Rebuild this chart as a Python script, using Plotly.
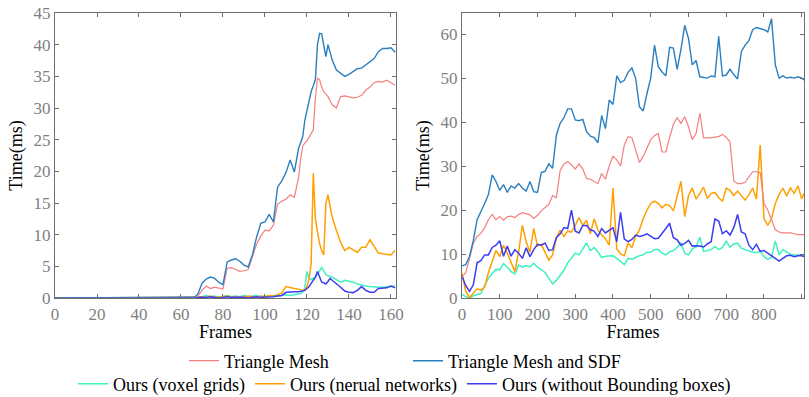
import plotly.graph_objects as go

# ---------------- data ----------------
series_names = ["Triangle Mesh", "Triangle Mesh and SDF", "Ours (voxel grids)",
                "Ours (nerual networks)", "Ours (without Bounding boxes)"]

left_frames = [0, 66, 68, 70, 72, 74, 76, 78, 80, 82, 84, 86, 88, 90, 92, 94, 96, 98, 100,
               102, 104, 106, 108, 110, 112, 114, 116,
               117, 118, 119, 120, 121, 122, 123, 124, 125, 126, 127, 128, 129, 130, 131, 132,
               134, 136, 138, 140, 142, 144, 146, 148, 150, 152, 154, 156, 158, 160, 162]

left_mesh = [0, 0, 0.3, 1.2, 1.9, 1.5, 1.7, 1.5, 1.4, 4.7, 4.8, 4.5, 4.2, 4.3, 4.5, 6.5, 8.5, 9.8, 10.7,
             10.6, 11.5, 14.8, 15.3, 15.6, 16.3, 15.9, 19.0,
             22.0, 24.0, 24.5, 24.8, 25.4, 26.0, 26.5, 31.5, 34.7, 34.5, 33.3, 32.6, 32.2, 31.8, 31.2, 30.5,
             30.0, 31.8, 31.9, 31.8, 31.6, 31.7, 32.0, 32.8, 33.3, 34.0, 34.2, 34.1, 34.4, 34.0, 33.6]

left_mesh_sdf = [0, 0, 0.6, 2.3, 3.0, 3.3, 3.1, 2.5, 2.1, 5.7, 6.0, 6.2, 5.8, 5.2, 4.9, 6.8, 9.6, 11.8, 12.0,
                 13.2, 12.0, 17.5, 18.5, 19.8, 21.8, 19.9, 23.6,
                 24.4, 25.5, 28.1, 29.8, 31.5, 32.6, 33.5, 34.5, 40.0, 41.8, 41.7, 40.0, 38.1, 40.0, 38.8, 37.6,
                 36.0, 35.5, 35.0, 35.3, 35.8, 36.2, 36.3, 36.8, 37.2, 37.8, 38.9, 39.4, 39.4, 39.5, 38.8]

left_voxel = [0, 0, 0.1, 0.2, 0.4, 0.2, 0.3, 0.1, 0.2, 0.4, 0.2, 0.3, 0.2, 0.4, 0.2, 0.3, 0.4, 0.2, 0.3,
              0.3, 0.4, 0.3, 0.4, 0.5, 0.4, 0.5, 0.6,
              0.7, 1.0, 1.6, 4.2, 3.2, 2.9, 3.1, 3.3, 3.8, 4.3, 4.8, 4.3, 3.7, 3.5, 3.4, 3.3,
              2.9, 2.5, 2.8, 2.7, 2.5, 2.2, 2.0, 1.9, 1.8, 1.7, 1.7, 1.7, 1.8, 1.8, 1.9]

left_neural = [0, 0, 0.1, 0.2, 0.1, 0.3, 0.1, 0.2, 0.1, 0.3, 0.2, 0.1, 0.2, 0.1, 0.3, 0.2, 0.1, 0.3, 0.2,
               0.4, 0.3, 0.5, 0.8, 1.8, 1.6, 1.5, 1.4,
               1.3, 1.2, 1.3, 1.8, 3.0, 5.5, 19.7, 12.5, 10.5, 8.6, 7.5, 6.8, 15.0, 16.3, 14.5, 12.8,
               10.7, 8.8, 7.5, 8.0, 7.6, 7.2, 8.0, 8.0, 9.2, 8.2, 7.1, 7.0, 6.9, 6.8, 7.5]

left_nobbox = [0, 0, 0.1, 0.0, 0.1, 0.2, 0.1, 0.0, 0.1, 0.2, 0.1, 0.1, 0.2, 0.1, 0.0, 0.1, 0.2, 0.1, 0.1,
               0.2, 0.2, 0.3, 0.4, 0.9, 1.0, 1.0, 1.0,
               1.1, 1.1, 1.2, 1.5, 1.8, 2.3, 2.8, 3.3, 4.2, 3.2, 2.5, 2.4, 2.2, 2.6, 3.1, 2.8,
               2.3, 1.7, 1.1, 0.9, 0.85, 1.2, 1.8, 1.2, 0.9, 0.9, 1.5, 1.6, 1.6, 1.9, 1.6]

right_frames = [0, 10, 20, 30, 40, 50, 60, 70, 80, 90, 100, 110, 120, 130, 140, 150, 160, 170, 180, 190,
                200, 210, 220, 230, 240, 250, 260, 270, 280, 290, 300, 310, 320, 330, 340, 350, 360, 370,
                380, 390, 400, 410, 420, 430, 440, 450, 460, 470, 480, 490, 500, 510, 520, 530, 540, 550,
                560, 570, 580, 590, 600, 610, 620, 630, 640, 650, 660, 670, 680, 690, 700, 710, 720, 730,
                740, 750, 760, 770, 780, 790, 800, 810, 820, 830, 840, 850, 860, 870, 880, 890, 900, 906]

right_mesh = [4.8, 5.8, 9.0, 12.4, 14.0, 14.7, 16.0, 17.8, 19.0, 17.8, 18.5, 17.7, 18.5, 18.6, 18.3, 19.0,
              19.4, 19.2, 18.9, 18.1, 18.8, 19.8, 20.5, 21.3, 23.3, 22.8, 29.0, 30.5, 31.0, 30.3, 29.3,
              30.5, 29.3, 27.2, 27.0, 26.5, 26.0, 28.3, 27.0, 30.0, 32.2, 31.4, 30.0, 34.8, 36.7, 36.5,
              33.5, 30.8, 32.2, 34.0, 36.0, 36.9, 37.4, 33.2, 33.2, 36.5, 39.5, 41.0, 39.7, 41.2, 39.0,
              36.0, 37.4, 42.0, 36.4, 36.4, 36.4, 36.6, 36.7, 37.2, 36.5, 35.5, 26.6, 26.0, 26.0, 26.3,
              27.5, 28.7, 28.7, 28.5, 21.5, 20.0, 17.8, 15.5, 15.0, 14.8, 14.8, 14.8, 14.6, 14.4, 14.4, 14.4]

right_mesh_sdf = [7.3, 7.6, 9.5, 13.1, 17.8, 19.5, 21.5, 23.5, 28.0, 26.5, 24.5, 25.8, 24.0, 25.5, 25.0,
                  26.0, 25.0, 24.3, 26.5, 24.2, 24.0, 28.5, 28.8, 30.5, 29.5, 37.0, 39.7, 41.0, 43.0, 43.0,
                  40.5, 40.3, 40.6, 37.8, 36.8, 36.5, 35.3, 41.5, 38.5, 45.0, 44.0, 50.5, 49.0, 49.5, 51.3,
                  52.3, 50.0, 43.5, 42.5, 46.5, 50.0, 57.5, 52.6, 51.4, 50.5, 57.0, 56.8, 52.0, 56.5, 62.0,
                  59.0, 53.0, 54.0, 50.3, 50.2, 50.0, 50.5, 50.3, 59.5, 50.5, 50.7, 52.0, 50.8, 49.8, 56.0,
                  57.5, 58.5, 61.0, 61.5, 61.3, 61.0, 60.5, 63.5, 53.0, 50.0, 50.5, 50.0, 50.2, 50.0, 50.3,
                  50.0, 49.6]

right_voxel = [0.8, 0.3, 0.0, 0.5, 0.8, 1.0, 2.8, 4.5, 5.5, 6.5, 6.4, 7.8, 7.0, 6.0, 5.5, 7.5, 7.0, 7.4,
               7.1, 7.9, 7.0, 6.4, 5.8, 4.5, 3.2, 4.0, 5.2, 6.3, 8.0, 9.2, 10.2, 9.8, 11.2, 12.5, 10.8,
               11.5, 10.5, 9.2, 9.5, 9.5, 9.6, 9.0, 8.2, 7.6, 9.0, 8.8, 9.2, 9.6, 9.8, 10.4, 10.4, 11.0,
               11.0, 10.2, 9.8, 10.5, 10.8, 11.5, 12.5, 10.2, 9.8, 11.2, 11.6, 13.8, 10.6, 10.8, 11.0,
               11.7, 11.0, 11.5, 13.0, 11.5, 12.3, 12.5, 11.3, 11.0, 10.7, 10.4, 10.3, 10.6, 9.4, 8.8,
               9.2, 13.0, 9.8, 11.0, 10.5, 9.9, 9.8, 9.8, 9.8, 9.8]

right_neural = [5.6, 1.5, 0.1, 1.0, 2.1, 1.8, 2.5, 5.8, 8.5, 10.8, 9.4, 12.0, 10.2, 8.0, 6.0, 10.5, 16.5,
                12.8, 10.4, 15.8, 11.8, 12.2, 10.3, 8.6, 9.8, 13.7, 15.4, 14.0, 15.2, 15.0, 16.5, 18.3,
                16.5, 17.7, 14.6, 18.0, 15.5, 14.3, 13.5, 12.0, 25.0, 11.2, 10.0, 9.6, 12.5, 11.5, 14.0,
                15.5, 18.0, 20.0, 21.5, 22.0, 21.5, 20.5, 21.3, 21.0, 19.8, 23.0, 26.5, 18.5, 23.3, 25.0,
                22.5, 23.8, 25.2, 22.6, 23.8, 24.0, 22.8, 22.0, 25.0, 24.5, 23.3, 24.3, 23.2, 22.3, 23.5,
                25.0, 22.5, 34.8, 18.0, 16.5, 18.0, 21.5, 23.5, 25.0, 23.2, 25.0, 23.8, 25.5, 22.5, 23.8]

right_nobbox = [5.0, 2.8, 1.5, 3.0, 8.0, 8.5, 9.8, 9.8, 11.5, 12.0, 13.0, 9.5, 11.8, 9.5, 11.0, 10.2, 9.0,
                11.4, 9.4, 11.0, 12.2, 12.0, 12.5, 10.8, 11.0, 13.7, 14.6, 16.0, 15.8, 20.0, 15.2, 14.8,
                16.5, 16.5, 15.5, 15.2, 14.0, 15.8, 14.8, 15.4, 16.0, 12.8, 19.5, 13.4, 12.8, 13.3, 14.3,
                14.0, 14.2, 14.6, 14.0, 13.5, 13.6, 14.6, 15.8, 17.0, 13.7, 13.2, 12.0, 12.4, 13.1, 11.8,
                11.9, 11.8, 11.6, 12.3, 12.8, 18.0, 17.5, 14.6, 15.3, 14.3, 16.0, 19.0, 15.0, 14.6, 12.0,
                11.0, 12.2, 10.6, 10.8, 10.2, 9.6, 9.0, 8.4, 9.0, 9.6, 9.7, 9.4, 9.6, 9.6, 9.4]

left_x_ticks = [0, 20, 40, 60, 80, 100, 120, 140, 160]
left_y_ticks = [0, 5, 10, 15, 20, 25, 30, 35, 40, 45]
right_x_ticks = [0, 100, 200, 300, 400, 500, 600, 700, 800, 900]
right_y_ticks = [0, 10, 20, 30, 40, 50, 60]

# ---------------- style ----------------
colors = ["#f47f7f", "#2a7fbf", "#3ff0c0", "#ffa000", "#3c3cf2"]
widths = [1.2, 1.4, 1.5, 1.5, 1.5]
FONT = "Liberation Serif"

W, H = 809, 397
L1, R1 = 55, 396
L2, R2 = 462, 804
TOP, BOT = 13, 298

fig = go.Figure()

left_data = [left_mesh, left_mesh_sdf, left_voxel, left_neural, left_nobbox]
right_data = [right_mesh, right_mesh_sdf, right_voxel, right_neural, right_nobbox]
legend_ids = ["legend", "legend", "legend2", "legend2", "legend2"]
draw_order = [2, 3, 4, 0, 1]

for i in draw_order:
    fig.add_trace(go.Scatter(
        x=left_frames, y=left_data[i], mode="lines", name=series_names[i],
        line=dict(color=colors[i], width=widths[i]),
        legend=legend_ids[i], legendrank=i + 1, showlegend=True,
        xaxis="x", yaxis="y"))
for i in draw_order:
    fig.add_trace(go.Scatter(
        x=right_frames, y=right_data[i], mode="lines", name=series_names[i],
        line=dict(color=colors[i], width=widths[i]),
        showlegend=False, xaxis="x2", yaxis="y2"))

axis_common = dict(
    showline=True, linecolor="#6e6e6e", linewidth=1.3, mirror="ticks",
    ticks="inside", ticklen=4, tickwidth=1, tickcolor="#6e6e6e",
    showgrid=False, zeroline=False,
    tickfont=dict(family=FONT, size=17, color="#7f7f7f"),
    automargin=False,
)
title_font = dict(family=FONT, size=18, color="#000000")

fig.update_layout(
    width=W, height=H,
    font=dict(family=FONT, size=17, color="#000000"),
    margin=dict(l=0, r=0, t=0, b=0, autoexpand=False),
    paper_bgcolor="white", plot_bgcolor="white",
    showlegend=True,
    xaxis=dict(domain=[L1 / W, R1 / W], range=[0, 162.4], tickvals=left_x_ticks,
               title=dict(text="Frames", font=title_font, standoff=6), anchor="y", **axis_common),
    yaxis=dict(domain=[1 - BOT / H, 1 - TOP / H], range=[0, 45], tickvals=left_y_ticks,
               title=dict(text="Time(ms)", font=title_font, standoff=6), anchor="x", **axis_common),
    xaxis2=dict(domain=[L2 / W, R2 / W], range=[0, 906], tickvals=right_x_ticks,
                title=dict(text="Frames", font=title_font, standoff=6), anchor="y2", **axis_common),
    yaxis2=dict(domain=[1 - BOT / H, 1 - TOP / H], range=[0, 64.8], tickvals=right_y_ticks,
                title=dict(text="Time(ms)", font=title_font, standoff=6), anchor="x2", **axis_common),
    legend=dict(orientation="h", xref="container", yref="container",
                x=184 / W, y=1 - 361 / H, xanchor="left", yanchor="middle",
                entrywidth=179, bgcolor="rgba(0,0,0,0)", borderwidth=0,
                font=dict(family=FONT, size=18, color="#000000"), itemwidth=30),
    legend2=dict(orientation="h", xref="container", yref="container",
                 x=73 / W, y=1 - 384 / H, xanchor="left", yanchor="middle",
                 bgcolor="rgba(0,0,0,0)", borderwidth=0,
                 font=dict(family=FONT, size=18, color="#000000"), itemwidth=30),
)

fig.write_html("out.html")
